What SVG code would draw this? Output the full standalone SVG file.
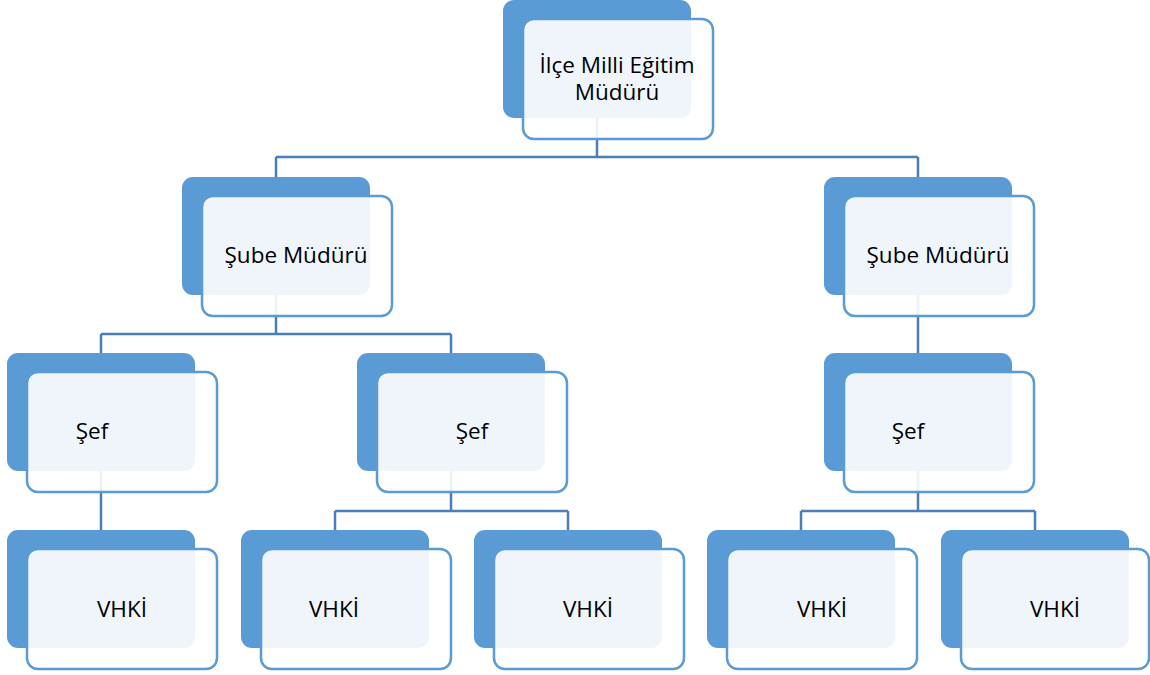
<svg xmlns="http://www.w3.org/2000/svg" width="1150" height="675" viewBox="0 0 1150 675">
<style>
.back{fill:#5B9BD5;}
.front{fill:#FFFFFF;fill-opacity:0.9;stroke:#5B9BD5;stroke-width:2.5;}
.lbl{font-family:"Open Sans","Noto Sans","Liberation Sans",sans-serif;font-size:22.5px;fill:#000000;text-anchor:middle;}
.conn{fill:none;stroke:#4A7EBB;stroke-width:2.5;}
</style>
<rect width="1150" height="675" fill="#FFFFFF"/>
<g id="connectors">
<path class="conn" d="M597 118V157M276 157H918M276 157V177M918 157V177"/>
<path class="conn" d="M276 295V334M101 334H451M101 334V353M451 334V353"/>
<path class="conn" d="M918 295V353"/>
<path class="conn" d="M101 471V530"/>
<path class="conn" d="M451 471V511M335 511H568M335 511V530M568 511V530"/>
<path class="conn" d="M918 471V511M801 511H1035M801 511V530M1035 511V530"/>
</g>
<g id="node-mudur">
<rect class="back" x="503" y="0" width="188" height="118" rx="11"/>
<rect class="front" x="523" y="19" width="190" height="120" rx="11"/>
<text class="lbl" x="617" y="73">İlçe Milli Eğitim</text>
<text class="lbl" x="617" y="100">Müdürü</text>
</g>
<g id="node-sube-left">
<rect class="back" x="182" y="177" width="188" height="118" rx="11"/>
<rect class="front" x="202" y="196" width="190" height="120" rx="11"/>
<text class="lbl" x="296" y="263">Şube Müdürü</text>
</g>
<g id="node-sube-right">
<rect class="back" x="824" y="177" width="188" height="118" rx="11"/>
<rect class="front" x="844" y="196" width="190" height="120" rx="11"/>
<text class="lbl" x="938" y="263">Şube Müdürü</text>
</g>
<g id="node-sef-left">
<rect class="back" x="7" y="353" width="188" height="118" rx="11"/>
<rect class="front" x="27" y="372" width="190" height="120" rx="11"/>
<text class="lbl" x="92" y="439">Şef</text>
</g>
<g id="node-sef-mid">
<rect class="back" x="357" y="353" width="188" height="118" rx="11"/>
<rect class="front" x="377" y="372" width="190" height="120" rx="11"/>
<text class="lbl" x="472" y="439">Şef</text>
</g>
<g id="node-sef-right">
<rect class="back" x="824" y="353" width="188" height="118" rx="11"/>
<rect class="front" x="844" y="372" width="190" height="120" rx="11"/>
<text class="lbl" x="908" y="439">Şef</text>
</g>
<g id="node-vhki-1">
<rect class="back" x="7" y="530" width="188" height="118" rx="11"/>
<rect class="front" x="27" y="549" width="190" height="120" rx="11"/>
<text class="lbl" x="122" y="617">VHKİ</text>
</g>
<g id="node-vhki-2">
<rect class="back" x="241" y="530" width="188" height="118" rx="11"/>
<rect class="front" x="261" y="549" width="190" height="120" rx="11"/>
<text class="lbl" x="334" y="617">VHKİ</text>
</g>
<g id="node-vhki-3">
<rect class="back" x="474" y="530" width="188" height="118" rx="11"/>
<rect class="front" x="494" y="549" width="190" height="120" rx="11"/>
<text class="lbl" x="588" y="617">VHKİ</text>
</g>
<g id="node-vhki-4">
<rect class="back" x="707" y="530" width="188" height="118" rx="11"/>
<rect class="front" x="727" y="549" width="190" height="120" rx="11"/>
<text class="lbl" x="822" y="617">VHKİ</text>
</g>
<g id="node-vhki-5">
<rect class="back" x="941" y="530" width="188" height="118" rx="11"/>
<rect class="front" x="961" y="549" width="188" height="120" rx="11"/>
<text class="lbl" x="1055" y="617">VHKİ</text>
</g>
</svg>
